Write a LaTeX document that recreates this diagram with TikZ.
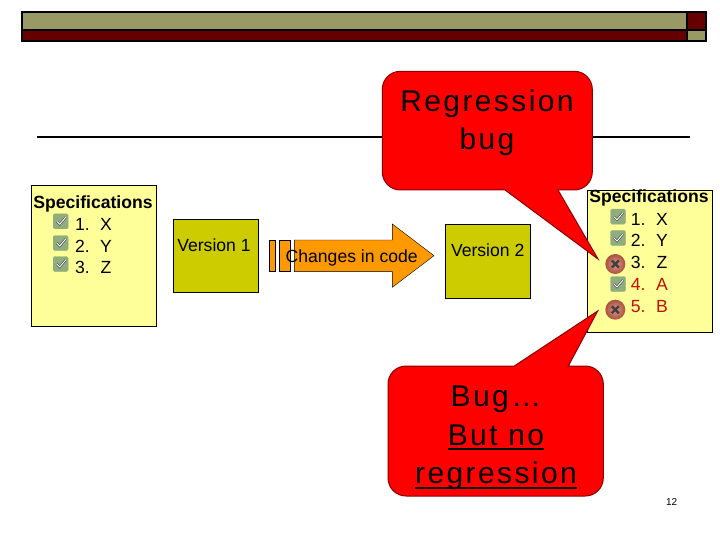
\documentclass[tikz,border=0pt]{standalone}
\usepackage{fontspec}
\usepackage{tikz}
\setmainfont{Liberation Sans}
\newfontfamily\callfont[LetterSpace=8]{Liberation Sans}
\newcommand{\thickul}[1]{\smash{\vtop{\hbox{\smash{#1}}\kern 3pt\hrule height 1.8pt}}}

\definecolor{headolive}{HTML}{999966}
\definecolor{headred}{HTML}{660000}
\definecolor{specyellow}{HTML}{FFFF99}
\definecolor{versionolive}{HTML}{CCCC00}
\definecolor{changeorange}{HTML}{FF9900}
\definecolor{calloutedge}{HTML}{8A0000}
\definecolor{newred}{HTML}{C01000}
\definecolor{checkgreen}{HTML}{8FAD7D}
\definecolor{crossred}{HTML}{C9604A}

\tikzset{
    txt/.style = {inner sep = 0, font = \fontsize{17.6}{20}\selectfont},
    boldtxt/.style = {txt, font = \fontsize{17.6}{20}\selectfont\bfseries},
    calltxt/.style = {inner sep = 0, align = center, font = \fontsize{30}{38.5}\selectfont\callfont},
    callout/.style = {draw = calloutedge, fill = red, line width = 1pt},
    checkicon/.pic = {
        \draw [fill = checkgreen, draw = checkgreen, rounded corners = 1.5] (-7.5,-7.5) rectangle (7.5,7.5);
        \draw [line width = 2.2pt, black!70] (-4,0) -- (-1,3) -- (5,-4);
        \draw [line width = 0.9pt, white] (-4,0) -- (-1,3) -- (5,-4);
    },
    crossicon/.pic = {
        \shade [inner color = crossred!65!white, outer color = crossred!85!black] (0,0) circle(10);
        \draw [line width = 2.4pt, black!75] (-3.5,-3.5) -- (3.5,3.5) (-3.5,3.5) -- (3.5,-3.5);
    }
}

\begin{document}
\begin{tikzpicture}[x = 1pt, y = -1pt]
        \useasboundingbox (0,0) rectangle (720,540);

        % header bar
        \fill [headolive] (22,12) rectangle (687,30);
        \fill [headred] (687,12) rectangle (706,30);
        \fill [headred] (22,30) rectangle (687,41);
        \fill [headolive] (687,30) rectangle (706,41);
        \draw [line width = 1.5pt] (22,12) rectangle (706,41) (22,30) -- (706,30) (687,12) -- (687,41);

        \draw [line width = 2pt] (37,137.5) -- (690,137.5);

        % left list
        \draw [fill = specyellow] (31.3,185.3) rectangle (155.7,326);
        \node [boldtxt, anchor = base] (specleft) at (93,209) {Specifications};
        \foreach \num/\val/\yy in {1/X/230.3, 2/Y/252, 3/Z/273} {
            \pic at (60.7,\yy-9) {checkicon};
            \node [txt, anchor = base west] (leftnum\num) at (75,\yy) {\num.};
            \node [txt, anchor = base] (leftval\num) at (106,\yy) {\val};
        }

        % versions and arrow
        \draw [fill = versionolive] (172.7,219.3) rectangle (257.7,292.3);
        \node [txt, anchor = base] (versionone) at (214,251.7) {Version 1};
        \draw [fill = versionolive] (445.3,224) rectangle (530.3,298.3);
        \node [txt, anchor = base] (versiontwo) at (487.7,256.7) {Version 2};

        \draw [fill = changeorange] (269.3,240) rectangle (274.7,271.6);
        \draw [fill = changeorange] (279.3,240) rectangle (289.7,271.6);
        \draw [fill = changeorange] (294.3,240) -- (392.3,240) -- (392.3,224) -- (434,255.7) -- (392.3,287.3) -- (392.3,271.6) -- (294.3,271.6) -- cycle;
        \node [txt, anchor = base] (changes) at (351.7,262.7) {Changes in code};

        % right list
        \draw [fill = specyellow] (586.7,190) rectangle (711.7,332.3);
        \node [boldtxt, anchor = base] (specright) at (649,202.3) {Specifications};
        \foreach \num/\val/\yy/\col in {1/X/225.3/black, 2/Y/246.5/black, 3/Z/268/black, 4/A/290/newred, 5/B/312/newred} {
            \node [txt, anchor = base west, text = \col] (rightnum\num) at (630.7,\yy) {\num.};
            \node [txt, anchor = base, text = \col] (rightval\num) at (662,\yy) {\val};
        }
        \pic at (618,216.7) {checkicon};
        \pic at (618,238) {checkicon};
        \pic at (615.3,264) {crossicon};
        \pic at (618,284) {checkicon};
        \pic at (615.3,309.7) {crossicon};

        % callouts
        \draw [callout] (505,190) -- (598,259) -- (558,190) [rounded corners = 18] -- (592.3,190) -- (592.3,71.3) -- (382.3,71.3) -- (382.3,190) [sharp corners] -- cycle;
        \node [calltxt] (regression) at (487,122.5) {Regression\\bug};

        \draw [callout] (568.3,366) -- (597.7,311) -- (514.3,366) [rounded corners = 18] -- (388,366) -- (388,496) -- (603.3,496) -- (603.3,366) [sharp corners] -- cycle;
        \node [calltxt] (noregression) at (496,435) {Bug…\\\thickul{But no}\\\thickul{regression}};

        \node [inner sep = 0, font = \fontsize{10}{12}\selectfont] (pagenum) at (671.7,501.7) {12};
    \end{tikzpicture}
\end{document}
